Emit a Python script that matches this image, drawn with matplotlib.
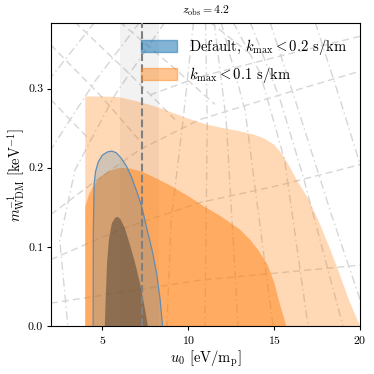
import matplotlib
matplotlib.use("Agg")
import matplotlib.pyplot as plt
from matplotlib.patches import Patch

plt.rcParams["font.family"] = "serif"
plt.rcParams["font.serif"] = ["cmr10"]
plt.rcParams["mathtext.fontset"] = "cm"
plt.rcParams["axes.formatter.use_mathtext"] = True

# contour outlines (x = u0, y = 1/m_WDM)
orange_2s_x = [4.0, 4.0, 5.0, 6.0, 7.0, 8.0, 9.0, 10.0, 11.0, 12.0, 13.0, 13.8, 14.4, 15.0,
               15.4, 15.8, 16.3, 17.0, 17.6, 18.2, 18.8, 19.4, 20.0]
orange_2s_y = [0.0, 0.290, 0.290, 0.289, 0.284, 0.278, 0.270, 0.262, 0.255, 0.250, 0.246, 0.242, 0.237, 0.229,
               0.219, 0.205, 0.185, 0.160, 0.132, 0.100, 0.066, 0.030, 0.0]

orange_1s_x = [4.0, 4.0, 4.2, 4.5, 4.9, 5.4, 6.0, 6.6, 7.3, 8.0, 9.0, 10.0, 11.0, 11.8, 12.4,
               13.0, 13.6, 14.1, 14.6, 15.0, 15.3, 15.6, 15.7]
orange_1s_y = [0.0, 0.151, 0.165, 0.178, 0.189, 0.196, 0.200, 0.199, 0.195, 0.188, 0.177, 0.164, 0.150, 0.140, 0.131,
               0.122, 0.109, 0.095, 0.078, 0.055, 0.030, 0.008, 0.0]

blue_2s_x = [4.46, 4.47, 4.52, 4.6, 4.75, 5.0, 5.3, 5.55, 5.8, 6.1, 6.4, 6.7, 7.0, 7.3,
             7.6, 7.9, 8.16, 8.35, 8.5]
blue_2s_y = [0.0, 0.120, 0.180, 0.195, 0.207, 0.216, 0.220, 0.221, 0.219, 0.212, 0.202, 0.188, 0.170, 0.150,
             0.122, 0.095, 0.066, 0.035, 0.0]

blue_1s_x = [5.14, 5.2, 5.27, 5.38, 5.55, 5.75, 5.9, 6.05, 6.3, 6.6, 6.9, 7.2, 7.45, 7.65]
blue_1s_y = [0.0, 0.040, 0.080, 0.110, 0.130, 0.137, 0.138, 0.135, 0.124, 0.103, 0.080, 0.053, 0.025, 0.0]

# fiducial value and band
u0_fid = 7.3
u0_band = (6.0, 8.3)

# faint background grid lines (control points)
dashed_lines = [
    ([7.77, 10.68, 15.34, 20.0], [0.292, 0.315, 0.341, 0.366]),
    ([2.0, 4.27, 7.18, 10.68, 15.34, 20.0], [0.141, 0.178, 0.223, 0.261, 0.292, 0.322]),
    ([2.0, 6.02, 10.68, 15.34, 20.0], [0.084, 0.122, 0.156, 0.178, 0.204]),
    ([2.0, 10.68, 20.0], [0.029, 0.058, 0.077]),
    ([2.0, 4.85, 7.18], [0.355, 0.292, 0.234]),
    ([3.40, 6.6, 9.22], [0.384, 0.318, 0.261]),
    ([6.02, 9.22, 11.55], [0.384, 0.325, 0.280]),
    ([2.0, 4.27], [0.286, 0.235]),
    ([11.26, 13.59], [0.384, 0.344]),
]
dashdot_lines = [
    ([4.56, 2.0], [0.384, 0.314]),
    ([7.18, 4.56, 2.0], [0.384, 0.309, 0.223]),
    ([8.64, 5.73, 3.40, 2.52, 2.99], [0.384, 0.292, 0.197, 0.108, 0.0]),
    ([10.3, 9.7, 9.0, 8.75], [0.384, 0.261, 0.134, 0.0]),
    ([11.0, 11.1, 10.97], [0.384, 0.261, 0.0]),
    ([11.5, 12.2, 12.9], [0.384, 0.261, 0.0]),
    ([11.9, 13.3, 14.93], [0.384, 0.273, 0.0]),
    ([12.6, 14.17, 15.6, 16.97], [0.384, 0.320, 0.210, 0.0]),
    ([13.6, 15.34, 16.68, 19.0], [0.384, 0.286, 0.189, 0.0]),
    ([14.75, 16.21, 18.37, 20.0], [0.384, 0.286, 0.138, 0.033]),
    ([17.38, 18.83, 20.0], [0.384, 0.286, 0.204]),
]

fig = plt.figure(figsize=(3.74, 3.74), dpi=100)
ax = fig.add_axes([0.136, 0.128, 0.827, 0.811])

grid_col = "#d6d6d6"
for xs, ys in dashed_lines:
    ax.plot(xs, ys, color=grid_col, lw=1.0, ls=(0, (5, 3)), zorder=0)
for xs, ys in dashdot_lines:
    ax.plot(xs, ys, color=grid_col, lw=1.0, ls=(0, (6, 2.5, 1, 2.5)), zorder=0)

ax.axvspan(u0_band[0], u0_band[1], color="0.5", alpha=0.1, lw=0, zorder=1)

orange = "#ff7f0e"
ax.fill(orange_2s_x, orange_2s_y, color=orange, alpha=0.3, lw=0, zorder=2)
ax.fill(orange_1s_x, orange_1s_y, color=orange, alpha=0.5, lw=0, zorder=2)

blue = "#1f77b4"
ax.fill(blue_2s_x, blue_2s_y, facecolor=blue, alpha=0.2, lw=0, zorder=3)
ax.plot(blue_2s_x, blue_2s_y, color="#5f8db5", lw=0.9, zorder=3)
ax.fill(blue_1s_x, blue_1s_y, facecolor="#3d3328", alpha=0.45, lw=0, zorder=3)

ax.axvline(u0_fid, color="0.5", ls="--", lw=1.5, zorder=4)

ax.set_xlim(2, 20)
ax.set_ylim(0, 0.383)
ax.set_xticks([5, 10, 15, 20])
ax.set_yticks([0.0, 0.1, 0.2, 0.3])
ax.set_yticklabels(["0.0", "0.1", "0.2", "0.3"])
ax.tick_params(labelsize=8.5, length=3, pad=2.5)
ax.set_xlabel(r"$u_0$ [eV/m$_{\rm p}$]", fontsize=10.5, labelpad=2)
ax.set_ylabel(r"$m_{\rm WDM}^{-1}$ [keV$^{-1}$]", fontsize=10.5)
ax.yaxis.set_label_coords(-0.078, 0.5)
ax.set_title(r"$z_{\rm obs}=$4.2", fontsize=8.5)

handles = [
    Patch(facecolor=blue, alpha=0.55, edgecolor=blue),
    Patch(facecolor=orange, alpha=0.45, edgecolor=orange),
]
labels = [r"Default, $k_{\rm max}<0.2$ s/km", r"$k_{\rm max}<0.1$ s/km"]
ax.legend(handles, labels, loc="upper right", frameon=False, fontsize=10.5,
          handlelength=2.5, handleheight=0.9, handletextpad=0.8,
          bbox_to_anchor=(1.0, 0.995))

fig.savefig("out.png", dpi=100)
